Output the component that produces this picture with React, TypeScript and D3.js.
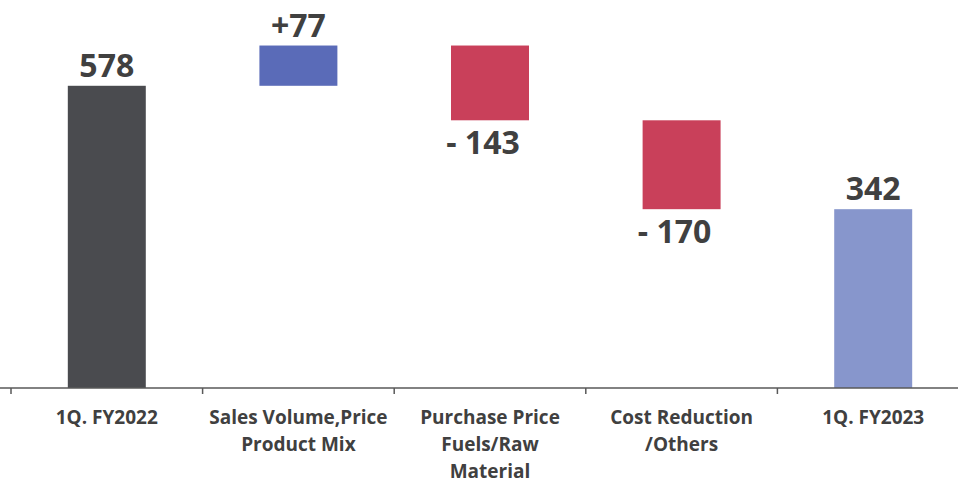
import React from "react";
import * as d3 from "d3";

const categories: string[][] = [
  ["1Q. FY2022"],
  ["Sales Volume,Price", "Product Mix"],
  ["Purchase Price", "Fuels/Raw", "Material"],
  ["Cost Reduction", "/Others"],
  ["1Q. FY2023"],
];
const values: number[] = [578, 77, -143, -170, 342];
const kinds: string[] = ["total", "delta", "delta", "delta", "total"];
const valueLabels: string[] = ["578", "+77", "- 143", "- 170", "342"];
const colors: string[] = ["#4a4b4f", "#5a6bb8", "#c9405a", "#c9405a", "#8796cc"];

const W = 958;
const H = 483;
const baseY = 388;
const FONT = "'Open Sans', 'Noto Sans', sans-serif";

export default function App() {
  const x = d3
    .scaleBand<number>()
    .domain(d3.range(values.length))
    .range([11, 969])
    .paddingInner(0.593)
    .paddingOuter(0.2965);
  const y = d3.scaleLinear().domain([0, 700]).range([baseY, 22]);

  let cum = 0;
  const bars = values.map((v, i) => {
    let start: number, end: number;
    if (kinds[i] === "total") {
      start = 0;
      end = v;
      cum = v;
    } else {
      start = cum;
      end = cum + v;
      cum = end;
    }
    return { i, v, start, end, lo: Math.min(start, end), hi: Math.max(start, end) };
  });

  const step = x.step();
  const tickXs = d3.range(values.length + 1).map((k) => 11 + k * step);

  return (
    <svg
      width={W}
      height={H}
      style={{ position: "absolute", left: 0, top: 0, background: "#fff" }}
      fontFamily={FONT}
    >
      {bars.map((b) => {
        const bx = x(b.i)!;
        const bw = x.bandwidth();
        const cx = bx + bw / 2;
        const neg = b.v < 0 && kinds[b.i] === "delta";
        return (
          <g key={b.i}>
            <rect x={bx} y={y(b.hi)} width={bw} height={y(b.lo) - y(b.hi)} fill={colors[b.i]} />
            <text
              x={neg ? cx - 7 : cx}
              y={neg ? y(b.lo) + 34 : y(b.hi) - 9}
              textAnchor="middle"
              fontSize={32}
              fontWeight={700}
              fill="#404040"
            >
              {valueLabels[b.i]}
            </text>
          </g>
        );
      })}
      <line x1={0} x2={W} y1={baseY} y2={baseY} stroke="#595959" strokeWidth={1.5} />
      {tickXs.map((tx, k) => (
        <line key={k} x1={tx} x2={tx} y1={baseY} y2={baseY + 6} stroke="#595959" strokeWidth={1.5} />
      ))}
      {categories.map((lines, i) => {
        const cx = x(i)! + x.bandwidth() / 2;
        return (
          <text key={i} textAnchor="middle" fontSize={19} fontWeight={700} fill="#404040">
            {lines.map((ln, j) => (
              <tspan key={j} x={cx} y={424 + j * 27}>
                {ln}
              </tspan>
            ))}
          </text>
        );
      })}
    </svg>
  );
}
